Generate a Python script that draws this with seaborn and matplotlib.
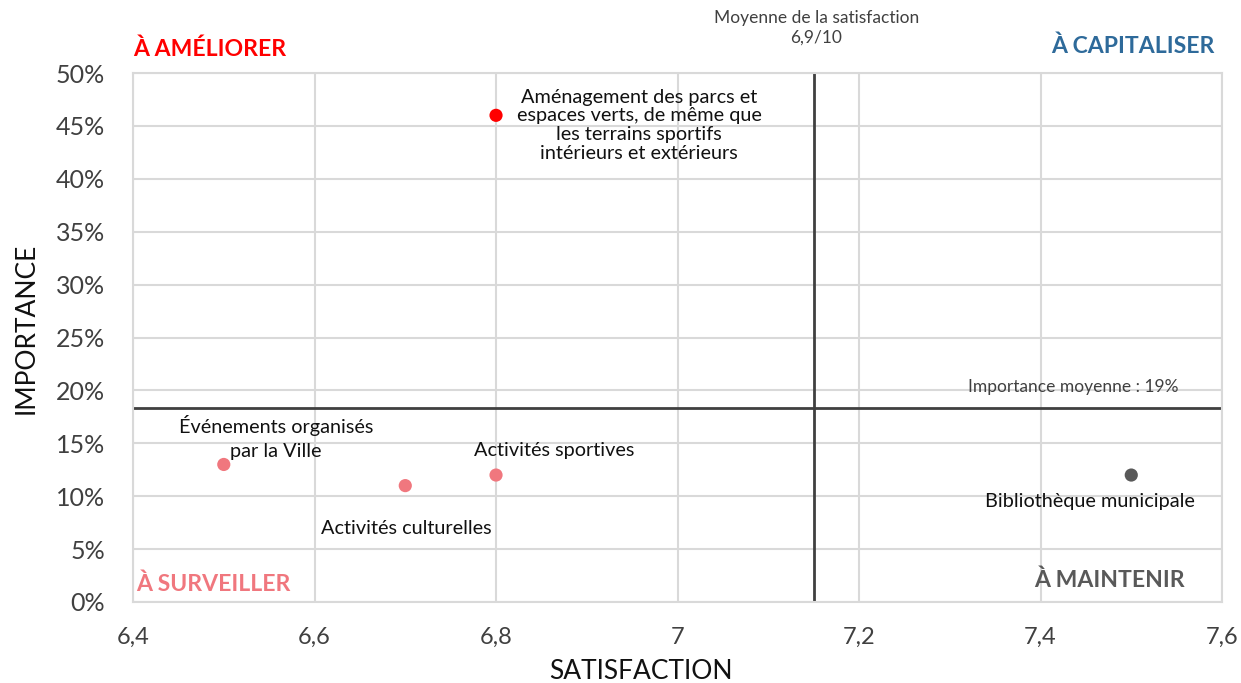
import pandas as pd
import seaborn as sns
import matplotlib.pyplot as plt
from matplotlib.ticker import FuncFormatter, MultipleLocator

# data
services = ["Aménagement des parcs et\nespaces verts, de même que\nles terrains sportifs\nintérieurs et extérieurs",
            "Événements organisés\npar la Ville",
            "Activités culturelles",
            "Activités sportives",
            "Bibliothèque municipale"]
satisfaction = [6.8, 6.5, 6.7, 6.8, 7.5]
importance = [46, 13, 11, 12, 12]
point_colors = ["#FF0000", "#F0777E", "#F0777E", "#F0777E", "#595959"]
label_offsets = [(143, -10), (52, 27), (1, -43), (58, 25), (-41, -26)]  # pixels
label_spacing = [1.12, 1.55, 1.0, 1.0, 1.0]

mean_satisfaction = 7.15
mean_importance = 18.3

df = pd.DataFrame({"service": services, "satisfaction": satisfaction, "importance": importance})

sns.set_theme(style="whitegrid")
plt.rcParams["font.family"] = ["Lato", "DejaVu Sans"]

fig = plt.figure(figsize=(12.41, 6.83), dpi=100)
ax = fig.add_axes([0.1072, 0.1186, 0.8775, 0.7745])

sns.scatterplot(data=df, x="satisfaction", y="importance", hue="service",
                palette=dict(zip(services, point_colors)), s=90, edgecolor="none",
                legend=False, ax=ax, zorder=3)

ax.axvline(mean_satisfaction, color="#404040", lw=2, zorder=2)
ax.axhline(mean_importance, color="#404040", lw=2, zorder=2)

for name, x, y, off, ls in zip(services, satisfaction, importance, label_offsets, label_spacing):
    ax.annotate(name, (x, y), xytext=off, textcoords="offset pixels",
                ha="center", va="center", fontsize=14.3, color="#111111",
                linespacing=ls, zorder=4)

ax.set_xlim(6.4, 7.6)
ax.set_ylim(0, 50)
ax.xaxis.set_major_locator(MultipleLocator(0.2))
ax.yaxis.set_major_locator(MultipleLocator(5))
ax.xaxis.set_major_formatter(FuncFormatter(lambda v, p: f"{v:g}".replace(".", ",")))
ax.yaxis.set_major_formatter(FuncFormatter(lambda v, p: f"{v:g}%"))
ax.tick_params(axis="y", labelsize=18, labelcolor="#404040", pad=20, length=0)
ax.tick_params(axis="x", labelsize=17, labelcolor="#404040", pad=18, length=0)
ax.grid(color="#D9D9D9", lw=1.5)
for sp in ax.spines.values():
    sp.set_color("#D9D9D9")
    sp.set_linewidth(1.5)

ax.set_xlabel("SATISFACTION", fontsize=19, color="#111111")
ax.set_ylabel("IMPORTANCE", fontsize=19, color="#111111")
ax.xaxis.set_label_coords(0.466, -0.107)
ax.yaxis.set_label_coords(-0.087, 0.517)

# quadrant labels
ax.text(0.0, 1.044, "À AMÉLIORER", transform=ax.transAxes, ha="left", va="center",
        fontsize=16.6, fontweight="bold", color="#FF0000")
ax.text(0.993, 1.051, "À CAPITALISER", transform=ax.transAxes, ha="right", va="center",
        fontsize=16.6, fontweight="bold", color="#2E6A9A")
ax.text(0.003, 0.034, "À SURVEILLER", transform=ax.transAxes, ha="left", va="center",
        fontsize=16.6, fontweight="bold", color="#F0777E")
ax.text(0.966, 0.042, "À MAINTENIR", transform=ax.transAxes, ha="right", va="center",
        fontsize=16.6, fontweight="bold", color="#595959")

ax.text(mean_satisfaction + 0.003, 1.085, "Moyenne de la satisfaction\n6,9/10",
        transform=ax.get_xaxis_transform(), ha="center", va="center",
        fontsize=12.5, color="#404040", linespacing=1.3)
ax.text(0.863, 20.3, "Importance moyenne : 19%", transform=ax.get_yaxis_transform(),
        ha="center", va="center", fontsize=12.5, color="#404040")

fig.savefig("out.png", dpi=100)
